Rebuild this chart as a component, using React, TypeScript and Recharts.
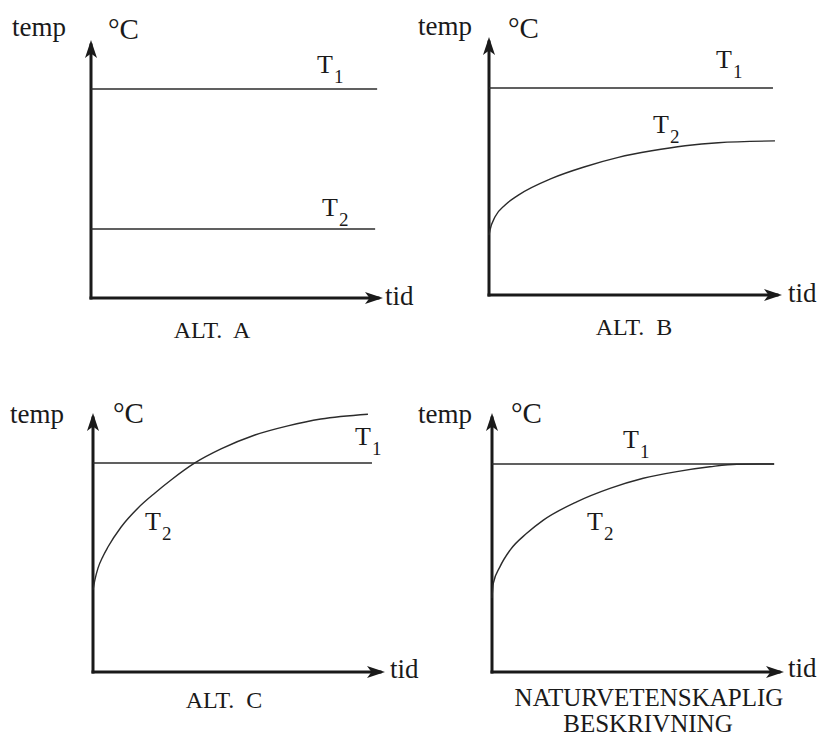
import { LineChart, Line, XAxis, YAxis, ReferenceLine } from 'recharts';

// time / temperature readings per alternative (relative units, axis tip = 100)
const altA_time_T1 = [0, 99.7];
const altA_temp_T1 = [82.6, 82.6];
const altA_time_T2 = [0, 99];
const altA_temp_T2 = [27.3, 27.3];

const altB_time_T1 = [0, 98.6];
const altB_temp_T1 = [81.8, 81.8];
const altB_time_T2 = [0, 0.35, 2.1, 5.6, 10.2, 21.8, 33.3, 44.9, 56.5, 68.1, 79.6, 99.3];
const altB_temp_T2 = [23.7, 25.7, 30.9, 35.6, 39.5, 46.1, 50.7, 54.4, 57.0, 59.0, 60.2, 60.9];

const altC_time_T1 = [0, 97.2];
const altC_temp_T1 = [82.3, 82.3];
const altC_time_T2 = [0, 0.7, 1.74, 3.5, 5.2, 9.8, 15.7, 21.6, 27.2, 35.5, 44.6, 56.4, 67.9, 79.4, 95.8];
const altC_temp_T2 = [32.3, 36.5, 40.9, 45.6, 49.2, 57.1, 64.6, 70.5, 75.6, 82.3, 87.8, 93.3, 96.9, 99.6, 101.5];

const natur_time_T1 = [0, 98.3];
const natur_temp_T1 = [81.9, 81.9];
const natur_time_T2 = [0, 0.45, 2.8, 6.3, 12.1, 17.9, 29.5, 41.1, 52.7, 64.4, 75.9, 85.3, 98.3];
const natur_temp_T2 = [29.1, 34.9, 41.5, 48.0, 54.6, 59.8, 67.0, 72.3, 76.3, 78.9, 80.8, 81.8, 81.9];

const zip = (t: number[], v: number[]) => t.map((x, i) => ({ t: x, temp: v[i] }));

const FONT = 'Liberation Serif';
const INK = '#1a1a1a';

type PanelProps = {
  id: string;
  left: number;
  top: number;
  margin: { top: number; right: number; bottom: number; left: number };
  t1: { t: number; temp: number }[];
  t2: { t: number; temp: number }[];
};

function Panel({ id, left, top, margin, t1, t2 }: PanelProps) {
  return (
    <div style={{ position: 'absolute', left, top }}>
      <LineChart width={409} height={368} margin={margin}>
        <defs>
          <marker
            id={`arrow-${id}`}
            markerUnits="userSpaceOnUse"
            markerWidth={18}
            markerHeight={12}
            refX={13}
            refY={6}
            orient="auto"
          >
            <path d="M0,0 L18,6 L0,12 L4.5,6 Z" fill={INK} />
          </marker>
        </defs>
        <XAxis type="number" dataKey="t" domain={[0, 100]} hide />
        <YAxis type="number" domain={[0, 110]} hide />
        <ReferenceLine
          segment={[{ x: 0, y: 0 }, { x: 0, y: 100 }]}
          stroke={INK}
          strokeWidth={3}
          strokeLinecap="square"
          markerEnd={`url(#arrow-${id})`}
        />
        <ReferenceLine
          segment={[{ x: 0, y: 0 }, { x: 100, y: 0 }]}
          stroke={INK}
          strokeWidth={3}
          strokeLinecap="square"
          markerEnd={`url(#arrow-${id})`}
        />
        <Line data={t1} dataKey="temp" type="linear" stroke="#2b2b2b" strokeWidth={1.4} dot={false} isAnimationActive={false} />
        <Line data={t2} dataKey="temp" type="monotone" stroke="#2b2b2b" strokeWidth={1.4} dot={false} isAnimationActive={false} />
      </LineChart>
    </div>
  );
}

const txt = { fontFamily: FONT };

function TLabel({ x, y, n }: { x: number; y: number; n: string }) {
  return (
    <text x={x} y={y} fontSize={26} style={txt}>
      T<tspan dx={1} dy={10} fontSize={19}>{n}</tspan>
    </text>
  );
}

export default function App() {
  return (
    <div style={{ position: 'absolute', left: 0, top: 0, width: 819, height: 736, background: '#fff' }}>
      <Panel id="a" left={0} top={0} margin={{ top: 19.7, right: 31, bottom: 70, left: 91 }}
        t1={zip(altA_time_T1, altA_temp_T1)} t2={zip(altA_time_T2, altA_temp_T2)} />
      <Panel id="b" left={410} top={0} margin={{ top: 16.7, right: 42, bottom: 73, left: 79 }}
        t1={zip(altB_time_T1, altB_temp_T1)} t2={zip(altB_time_T2, altB_temp_T2)} />
      <Panel id="c" left={0} top={368} margin={{ top: 24.6, right: 29, bottom: 64, left: 93 }}
        t1={zip(altC_time_T1, altC_temp_T1)} t2={zip(altC_time_T2, altC_temp_T2)} />
      <Panel id="d" left={410} top={368} margin={{ top: 24.6, right: 40, bottom: 64, left: 82 }}
        t1={zip(natur_time_T1, natur_temp_T1)} t2={zip(natur_time_T2, natur_temp_T2)} />

      <svg width={819} height={736} style={{ position: 'absolute', left: 0, top: 0, pointerEvents: 'none' }} fill={INK}>
        {/* ALT. A */}
        <text x={12} y={36} fontSize={27} style={txt}>temp</text>
        <text x={108} y={39} fontSize={29} style={txt}>°C</text>
        <TLabel x={317} y={73} n="1" />
        <TLabel x={322} y={216} n="2" />
        <text x={385} y={305} fontSize={27} style={txt}>tid</text>
        <text x={212} y={338} fontSize={24} textAnchor="middle" style={{ ...txt, whiteSpace: 'pre' }}>ALT.  A</text>

        {/* ALT. B */}
        <text x={418} y={35} fontSize={27} style={txt}>temp</text>
        <text x={508} y={38} fontSize={29} style={txt}>°C</text>
        <TLabel x={716} y={68} n="1" />
        <TLabel x={653} y={133} n="2" />
        <text x={788} y={302} fontSize={27} style={txt}>tid</text>
        <text x={634} y={335} fontSize={24} textAnchor="middle" style={{ ...txt, whiteSpace: 'pre' }}>ALT.  B</text>

        {/* ALT. C */}
        <text x={10} y={423} fontSize={27} style={txt}>temp</text>
        <text x={113} y={423} fontSize={29} style={txt}>°C</text>
        <TLabel x={355} y={445} n="1" />
        <TLabel x={145} y={530} n="2" />
        <text x={390} y={678} fontSize={27} style={txt}>tid</text>
        <text x={224} y={708} fontSize={24} textAnchor="middle" style={{ ...txt, whiteSpace: 'pre' }}>ALT.  C</text>

        {/* Naturvetenskaplig beskrivning */}
        <text x={418} y={423} fontSize={27} style={txt}>temp</text>
        <text x={511} y={423} fontSize={29} style={txt}>°C</text>
        <TLabel x={623} y={448} n="1" />
        <TLabel x={587} y={530} n="2" />
        <text x={788} y={677} fontSize={27} style={txt}>tid</text>
        <text x={649} y={706} fontSize={25} textAnchor="middle" style={txt}>NATURVETENSKAPLIG</text>
        <text x={648} y={732} fontSize={25} textAnchor="middle" style={txt}>BESKRIVNING</text>
      </svg>
    </div>
  );
}
